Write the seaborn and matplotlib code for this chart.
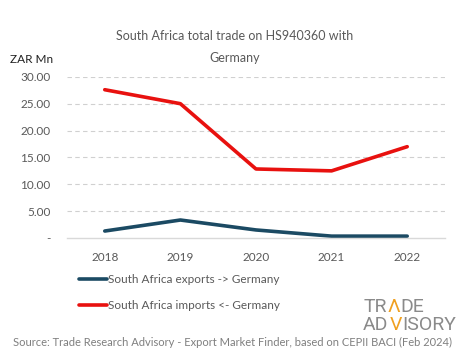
import matplotlib
matplotlib.use("Agg")
import matplotlib.pyplot as plt
import seaborn as sns
import pandas as pd
from matplotlib.lines import Line2D

years = ["2018", "2019", "2020", "2021", "2022"]
exports = [1.3, 3.35, 1.5, 0.35, 0.35]
imports = [27.6, 25.0, 12.85, 12.5, 17.0]
series_names = ["South Africa exports -> Germany", "South Africa imports <- Germany"]
yticks = [0, 5, 10, 15, 20, 25, 30]
ytick_labels = ["-", "5.00", "10.00", "15.00", "20.00", "25.00", "30.00"]

sns.set_theme(style="white")
plt.rcParams['font.family'] = ['Lato', 'DejaVu Sans']

df = pd.DataFrame({
    "year": years * 2,
    "value": exports + imports,
    "series": [series_names[0]] * 5 + [series_names[1]] * 5,
})

fig = plt.figure(figsize=(4.65, 3.59), dpi=100)
ax = fig.add_axes([0.144, 0.337, 0.813, 0.449])
palette = {series_names[0]: "#1b4a63", series_names[1]: "#e8110f"}
sns.lineplot(data=df, x="year", y="value", hue="series", palette=palette,
             linewidth=2.6, ax=ax, legend=False, sort=False)

ax.set_xlim(-0.5, 4.5)
ax.set_ylim(0, 30)
ax.set_yticks(yticks)
ax.set_yticklabels(ytick_labels)
ax.set_xlabel("")
ax.set_ylabel("")
for s in ["top", "right", "left"]:
    ax.spines[s].set_visible(False)
ax.spines["bottom"].set_color("#d9d9d9")
ax.spines["bottom"].set_linewidth(1)
for y in yticks[1:]:
    ax.axhline(y, color="#d0d0d0", linestyle=(0, (4, 3)), linewidth=0.8, zorder=0)
ax.tick_params(axis="both", length=0, labelsize=8.5, colors="#595959")
ax.tick_params(axis="y", pad=12)
ax.tick_params(axis="x", pad=10)

fig.text(0.505, 0.90, "South Africa total trade on HS940360 with", ha="center", va="center",
         fontsize=9, color="#595959")
fig.text(0.505, 0.838, "Germany", ha="center", va="center", fontsize=9, color="#595959")
fig.text(0.022, 0.833, "ZAR Mn", ha="left", va="center", fontsize=8.5, color="#222222")

handles = [Line2D([0], [0], color=palette[n], lw=2.6) for n in series_names]
fig.legend(handles, series_names, loc="upper left", bbox_to_anchor=(0.148, 0.265),
           frameon=False, fontsize=8.5, labelcolor="#595959", handlelength=2.3,
           handletextpad=0.1, labelspacing=1.25)

# logo
gray = "#8a8a8a"
orange = "#f0a020"
logo_kw = dict(ha="left", va="baseline", fontsize=14, family=["Roboto", "DejaVu Sans"])
fig.canvas.draw()
renderer = fig.canvas.get_renderer()

def width_of(s, x0, y0):
    probe = fig.text(x0, y0, s, color="none", **logo_kw)
    w = probe.get_window_extent(renderer=renderer).width / fig.bbox.width
    probe.remove()
    return w

def logo_word(prefix, accent, suffix, x0, y0):
    w1 = width_of(prefix, x0, y0)
    w2 = width_of(prefix + accent, x0, y0)
    fig.text(x0, y0, prefix, color=gray, **logo_kw)
    fig.text(x0 + w1 + 0.0015, y0, accent, color=orange, **logo_kw)
    fig.text(x0 + w2 + 0.003, y0, suffix, color=gray, **logo_kw)

logo_word("TR", "\u039b", "DE", 0.781, 0.131)
logo_word("AD", "V", "ISORY", 0.781, 0.081)

fig.text(0.5, 0.045, "Source: Trade Research Advisory - Export Market Finder, based on CEPII BACI (Feb 2024)",
         ha="center", va="center", fontsize=8, color="#7f7f7f")

fig.savefig("out.png", dpi=100)
